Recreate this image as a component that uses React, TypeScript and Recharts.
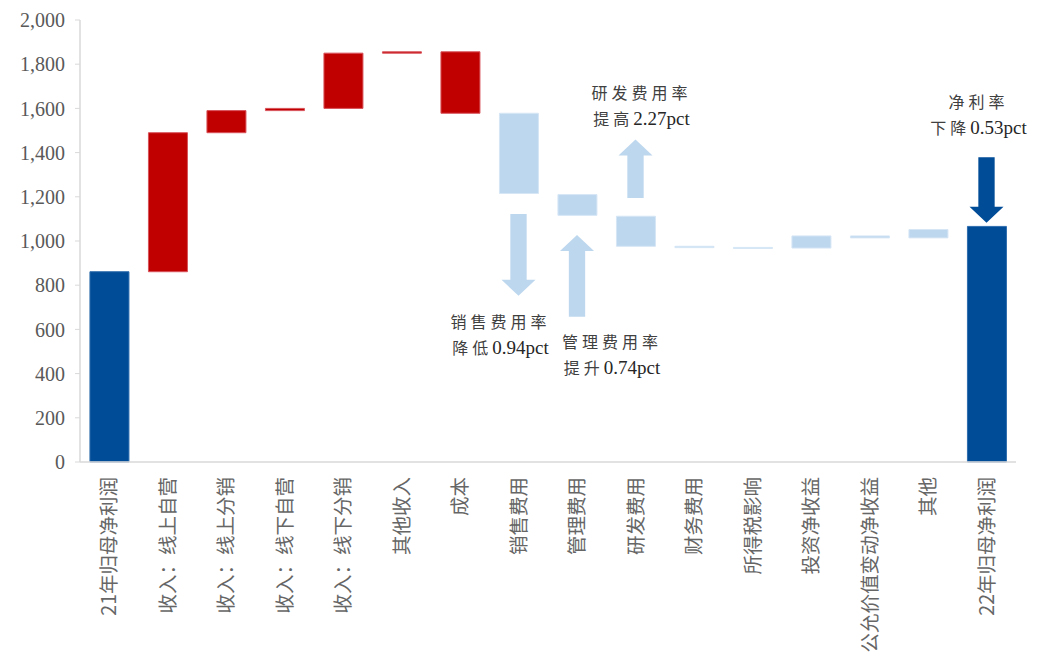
import React from "react";
import { BarChart, Bar, XAxis, YAxis, Cell } from "recharts";

const categories = [
  "21年归母净利润",
  "收入：线上自营",
  "收入：线上分销",
  "收入：线下自营",
  "收入：线下分销",
  "其他收入",
  "成本",
  "销售费用",
  "管理费用",
  "研发费用",
  "财务费用",
  "所得税影响",
  "投资净收益",
  "公允价值变动净收益",
  "其他",
  "22年归母净利润",
];
const barLow = [0, 861, 1490, 1590, 1600, 1850, 1578, 1215, 1116, 976, 970, 966, 968, 1014, 1014, 0];
const barHigh = [861, 1490, 1590, 1600, 1850, 1856, 1856, 1578, 1210, 1112, 976, 971, 1023, 1023, 1052, 1066];
const barKind = ["total", "up", "up", "up", "up", "up", "up", "down", "down", "down", "down", "down", "down", "down", "down", "total"];
const yTicks = [0, 200, 400, 600, 800, 1000, 1200, 1400, 1600, 1800, 2000];

// annotation arrows: tail value -> tip value
const arrowCats = ["销售费用", "管理费用", "研发费用", "22年归母净利润"];
const arrowTail = [1122, 657, 1195, 1379];
const arrowTip = [752, 1027, 1459, 1083];
const arrowKind = ["down", "down", "down", "total"];
const noteLine1 = ["销售费用率", "管理费用率", "研发费用率", "净利率"];
const noteVerb = ["降低", "提升", "提高", "下降"];
const notePct = ["0.94pct", "0.74pct", "2.27pct", "0.53pct"];

// text placement around each arrow (layout only)
const noteLayout = [
  { dx: -18, below: true, gap: 27 },
  { dx: 35, below: true, gap: 26 },
  { dx: 6, below: false, gap: 46 },
  { dx: -8, below: false, gap: 55 },
];

const fills: Record<string, string> = { total: "#004C97", up: "#C00000", down: "#BDD7EE" };
const strokes: Record<string, string> = { total: "#2E6DAE", up: "#D8525A", down: "#D6E6F5" };

const data = categories.map((name, i) => {
  const a = arrowCats.indexOf(name);
  return {
    name,
    range: [barLow[i], barHigh[i]],
    kind: barKind[i],
    arrow: a >= 0 ? [Math.min(arrowTail[a], arrowTip[a]), Math.max(arrowTail[a], arrowTip[a])] : null,
    arrowIdx: a,
  };
});

const serif = "'Liberation Serif', 'Times New Roman', 'Noto Sans CJK SC', serif";
const sans = "'Noto Sans CJK SC', 'Noto Sans', sans-serif";

const CatTick = (props: any) => {
  const { x, y, payload } = props;
  const ty = y + 7;
  return (
    <text
      x={x}
      y={ty}
      transform={`rotate(-90 ${x} ${ty})`}
      textAnchor="end"
      dy="0.35em"
      fill="#666666"
      fontSize={19.5}
      fontFamily={sans}
    >
      {payload.value}
    </text>
  );
};

const ArrowShape = (props: any) => {
  const { x, y, width, height, payload } = props;
  if (payload.arrowIdx < 0 || !height) return null;
  const i = payload.arrowIdx;
  const up = arrowTip[i] > arrowTail[i];
  const cx = x + width / 2;
  const shaft = width * 0.48;
  const head = 16;
  const top = y;
  const bottom = y + height;
  let pts: string;
  if (up) {
    pts = [
      [cx, top],
      [x + width, top + head],
      [cx + shaft / 2, top + head],
      [cx + shaft / 2, bottom],
      [cx - shaft / 2, bottom],
      [cx - shaft / 2, top + head],
      [x, top + head],
    ].map((p) => p.join(",")).join(" ");
  } else {
    pts = [
      [cx - shaft / 2, top],
      [cx + shaft / 2, top],
      [cx + shaft / 2, bottom - head],
      [x + width, bottom - head],
      [cx, bottom],
      [x, bottom - head],
      [cx - shaft / 2, bottom - head],
    ].map((p) => p.join(",")).join(" ");
  }
  const lay = noteLayout[i];
  const tx = cx + lay.dx;
  const l1 = lay.below ? bottom + lay.gap : top - lay.gap;
  const l2 = l1 + 26;
  return (
    <g>
      <polygon points={pts} fill={fills[arrowKind[i]]} />
      <text x={tx} y={l1} dy="0.35em" textAnchor="middle" fontSize={16} fontFamily={serif} fill="#404040" letterSpacing={4}>
        {noteLine1[i]}
      </text>
      <text x={tx} y={l2} dy="0.35em" textAnchor="middle" fontFamily={serif} fill="#262626">
        <tspan fontSize={16} letterSpacing={4} fill="#404040">{noteVerb[i]}</tspan>
        <tspan fontSize={19}>{notePct[i]}</tspan>
      </text>
    </g>
  );
};

const App: React.FC = () => {
  return (
    <div style={{ position: "absolute", left: 0, top: 0, background: "#fff" }}>
      <BarChart
        width={1041}
        height={657}
        data={data}
        margin={{ top: 20, right: 25, bottom: 0, left: 0 }}
        barCategoryGap="17%"
      >
        <XAxis
          dataKey="name"
          interval={0}
          height={195}
          tick={<CatTick />}
          tickLine={false}
          axisLine={{ stroke: "#D9D9D9", strokeWidth: 1.5 }}
        />
        <XAxis xAxisId="arrows" dataKey="name" hide />
        <YAxis
          width={80}
          domain={[0, 2000]}
          ticks={yTicks}
          interval={0}
          tickFormatter={(v: number) => v.toLocaleString("en-US")}
          tick={{ fill: "#595959", fontSize: 20, fontFamily: serif }}
          tickLine={{ stroke: "#D9D9D9" }}
          tickSize={5}
          tickMargin={10}
          axisLine={{ stroke: "#D9D9D9", strokeWidth: 1.5 }}
        />
        <Bar dataKey="range" isAnimationActive={false}>
          {data.map((d, i) => (
            <Cell key={i} fill={fills[d.kind]} stroke={strokes[d.kind]} strokeWidth={1} />
          ))}
        </Bar>
        <Bar dataKey="arrow" xAxisId="arrows" barSize={34} isAnimationActive={false} shape={<ArrowShape />} />
      </BarChart>
    </div>
  );
};

export default App;
